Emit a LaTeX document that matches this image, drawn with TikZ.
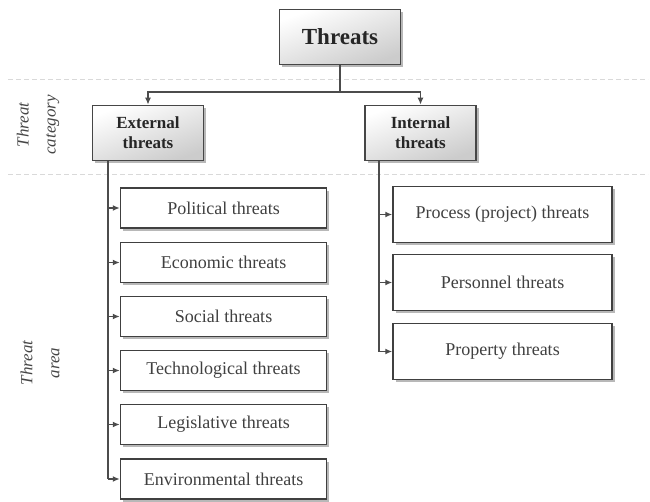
\documentclass[tikz,border=0pt]{standalone}
\usepackage{fontspec}
\setmainfont{Liberation Serif}
\usetikzlibrary{shadows,arrows.meta,calc}
\begin{document}
\begin{tikzpicture}[x=1pt,y=-1pt,
  every node/.style={inner sep=0pt, align=center},
  catbox/.style={draw=gray!55!black, line width=1.6pt, shading=axis,
    top color=white, bottom color=gray!40, shading angle=20,
    drop shadow={shadow xshift=2.5pt, shadow yshift=-2.5pt, fill=gray!70, opacity=0.8},
    font=\bfseries\fontsize{17}{20}\selectfont, text=black!85},
  areabox/.style={draw=gray!50!black, line width=1.5pt, fill=white,
    minimum width=206pt, minimum height=40pt,
    drop shadow={shadow xshift=2.5pt, shadow yshift=-2.5pt, fill=gray!70, opacity=0.8},
    font=\fontsize{18}{20}\selectfont, text=black!75},
  areaboxr/.style={areabox, minimum width=219pt, minimum height=56pt},
  link/.style={draw=black!70, line width=1.6pt},
  arr/.style={link, -{Latex[length=7pt,width=6pt]}},
  sep/.style={draw=gray!30, line width=1pt, dash pattern=on 5pt off 3pt},
  side/.style={rotate=90, font=\itshape\fontsize{17}{27}\selectfont, text=gray!55!black}]
\useasboundingbox (0,0) rectangle (650,501);

% separators between levels
\draw[sep] (8,79) -- (648,79);
\draw[sep] (8,174) -- (648,174);

% level labels
\node[side] (lcat) at (38,125) {Threat\\category};
\node[side] (larea) at (40,363) {Threat\\area};

% root and categories
\node[catbox, minimum width=121pt, minimum height=55pt,
  font=\bfseries\fontsize{23}{25}\selectfont] (top) at (340,37) {Threats};
\node[catbox, minimum width=111pt, minimum height=55pt] (ext) at (148,133) {External\\threats};
\node[catbox, minimum width=111pt, minimum height=55pt] (int) at (420.5,133) {Internal\\threats};

\coordinate (split) at (340,92);
\draw[link] (top.south) -- (split);
\draw[arr] (split) -| (ext.north);
\draw[arr] (split) -| (int.north);

% external threat areas
\node[areabox] (pol) at (223.5,208) {Political threats};
\node[areabox] (eco) at (223.5,262.5) {Economic threats};
\node[areabox] (soc) at (223.5,316.5) {Social threats};
\node[areabox] (tec) at (223.5,370.5) {Technological threats};
\node[areabox] (leg) at (223.5,424.5) {Legislative threats};
\node[areabox] (env) at (223.5,479) {Environmental threats};

\coordinate (lbus) at (108,479);
\draw[link] (ext.south -| lbus) -- (lbus);
\foreach \n in {pol,eco,soc,tec,leg,env}
  \draw[arr] (\n.west -| lbus) -- (\n.west);

% internal threat areas
\node[areaboxr] (pro) at (502.5,214.5) {Process (project) threats};
\node[areaboxr] (per) at (502.5,282.5) {Personnel threats};
\node[areaboxr] (prp) at (502.5,351.5) {Property threats};

\coordinate (rbus) at (379,351.5);
\draw[link] (int.south -| rbus) -- (rbus);
\foreach \n in {pro,per,prp}
  \draw[arr] (\n.west -| rbus) -- (\n.west);
\end{tikzpicture}
\end{document}
